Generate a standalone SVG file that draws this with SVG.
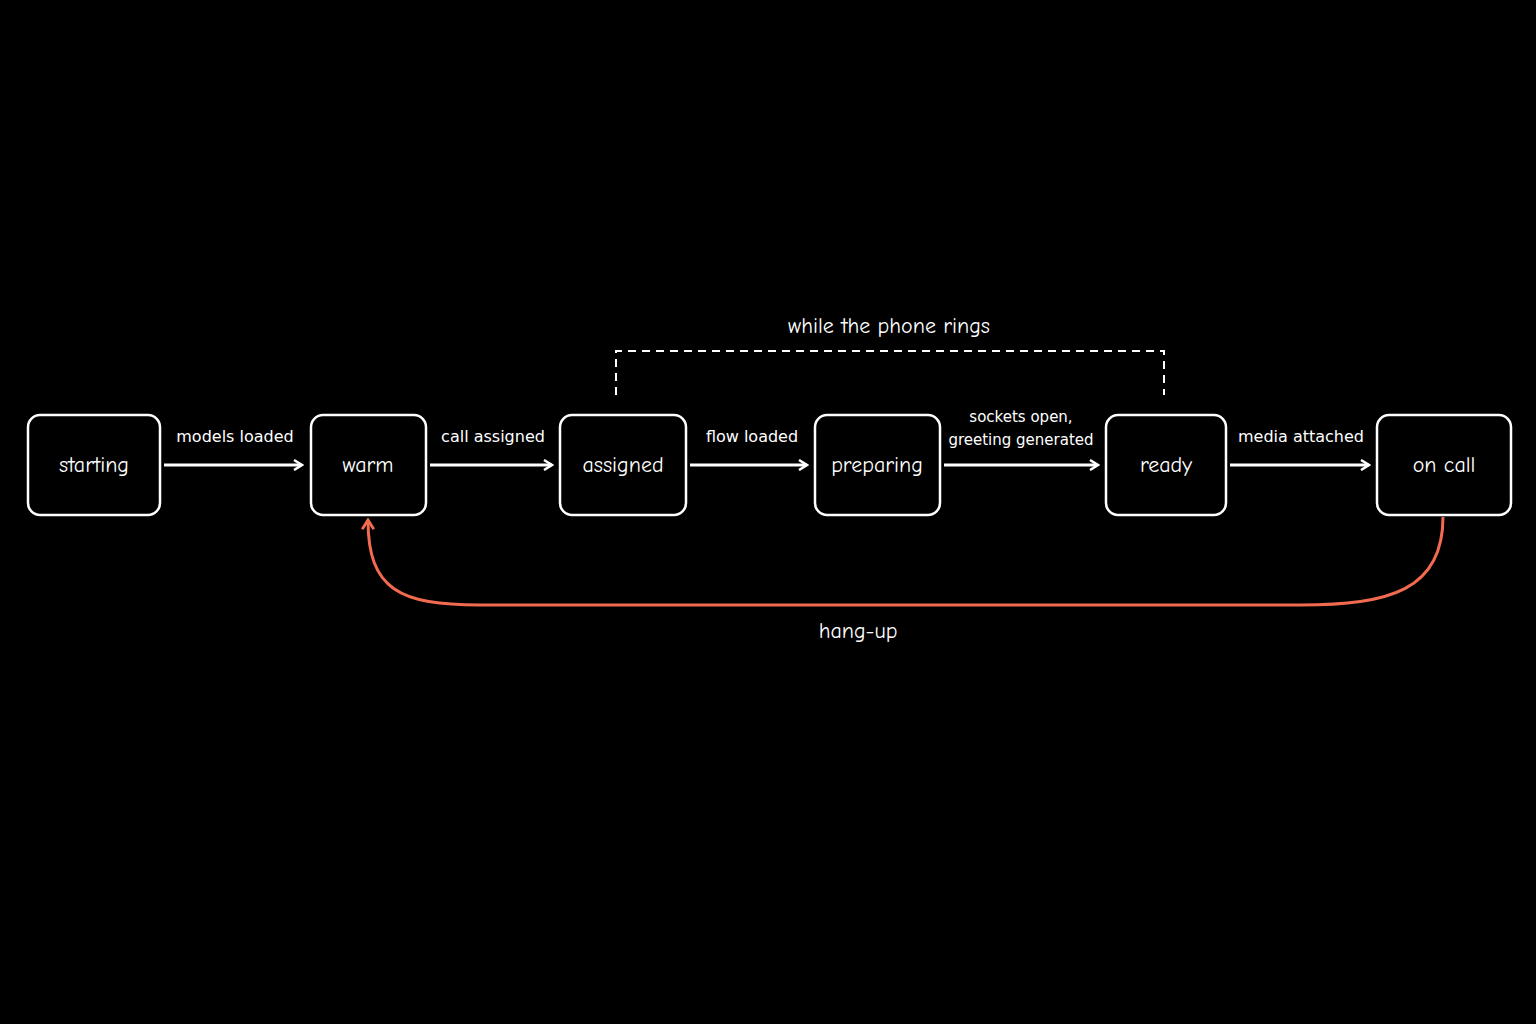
<svg xmlns="http://www.w3.org/2000/svg" width="1536" height="1024" viewBox="0 0 1536 1024">
<style>
.n{fill:#000;stroke:#fff;stroke-width:2.5}
.t{fill:#fff;font-family:"Comic Neue","DejaVu Sans",sans-serif;font-size:22px;text-anchor:middle}
.l{fill:#fff;font-family:"DejaVu Sans",sans-serif;font-size:16px;text-anchor:middle}
.s{font-size:15px}
.a{stroke:#fff;stroke-width:3;fill:none}
</style>
<defs>
<marker id="w" viewBox="0 0 12 12" refX="10" refY="6" markerWidth="12" markerHeight="12" markerUnits="userSpaceOnUse" orient="auto"><path d="M2,1 L10,6 L2,11" fill="none" stroke="#fff" stroke-width="2.5"/></marker>
<marker id="r" viewBox="0 0 12 12" refX="10" refY="6" markerWidth="14" markerHeight="14" markerUnits="userSpaceOnUse" orient="auto"><path d="M2,1 L10,6 L2,11" fill="none" stroke="#f26b50" stroke-width="2.5"/></marker>
</defs>
<rect width="1536" height="1024" fill="#000"/>
<g id="starting"><rect class="n" x="28" y="415" width="132" height="100" rx="12"/><text class="t" x="94" y="472">starting</text></g>
<g id="warm"><rect class="n" x="311" y="415" width="115" height="100" rx="12"/><text class="t" x="368" y="472">warm</text></g>
<g id="assigned"><rect class="n" x="560" y="415" width="126" height="100" rx="12"/><text class="t" x="623" y="472">assigned</text></g>
<g id="preparing"><rect class="n" x="815" y="415" width="125" height="100" rx="12"/><text class="t" x="877" y="472">preparing</text></g>
<g id="ready"><rect class="n" x="1106" y="415" width="120" height="100" rx="12"/><text class="t" x="1166" y="472">ready</text></g>
<g id="oncall"><rect class="n" x="1377" y="415" width="134" height="100" rx="12"/><text class="t" x="1444" y="472">on call</text></g>
<g id="connectors">
<path class="a" d="M164,465 H302" marker-end="url(#w)"/>
<path class="a" d="M430,465 H552" marker-end="url(#w)"/>
<path class="a" d="M690,465 H807" marker-end="url(#w)"/>
<path class="a" d="M944,465 H1098" marker-end="url(#w)"/>
<path class="a" d="M1230,465 H1369" marker-end="url(#w)"/>
<path d="M1443,517 C1443,590 1390,605 1300,605 H480 C400,605 368,590 368,520" fill="none" stroke="#f26b50" stroke-width="3" marker-end="url(#r)"/>
<path d="M616,395 V351 H1164 V395" fill="none" stroke="#fff" stroke-width="2" stroke-dasharray="8,6"/>
</g>
<g id="labels">
<text class="l" x="235" y="442">models loaded</text>
<text class="l" x="493" y="442">call assigned</text>
<text class="l" x="752" y="442">flow loaded</text>
<text class="l s" x="1021" y="422">sockets open,</text>
<text class="l s" x="1021" y="445">greeting generated</text>
<text class="l" x="1301" y="442">media attached</text>
<text class="t" x="889" y="333">while the phone rings</text>
<text class="t" x="858" y="638">hang-up</text>
</g>
</svg>
